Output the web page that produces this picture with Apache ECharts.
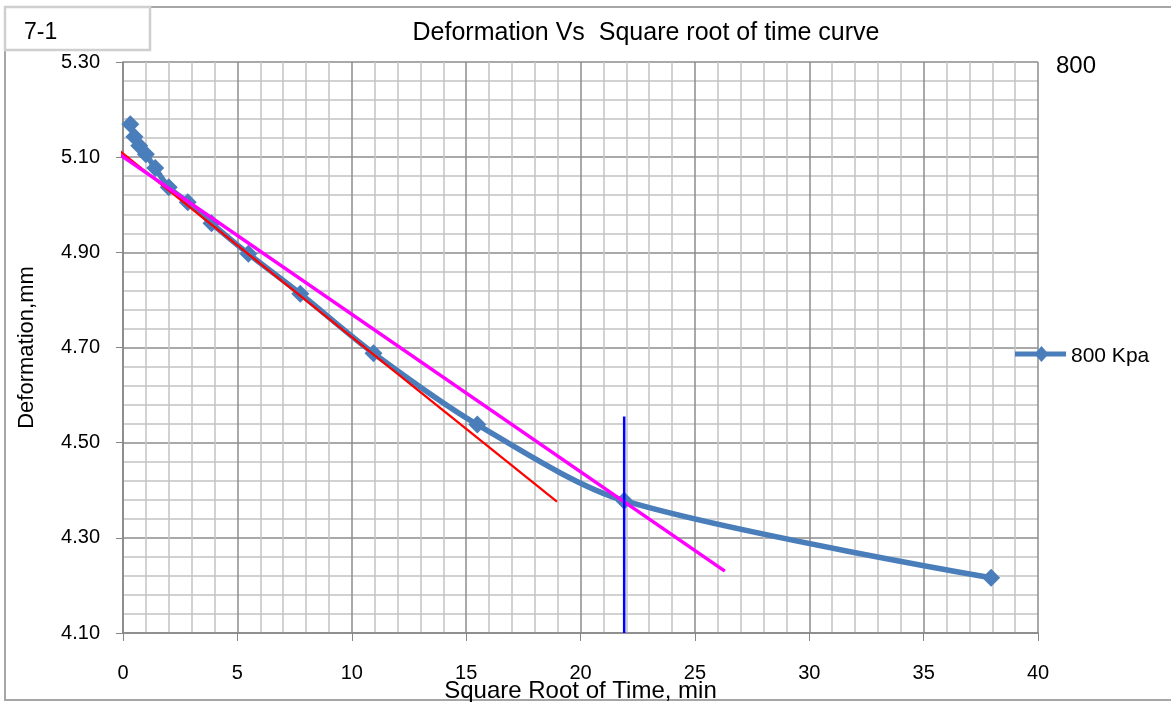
<!DOCTYPE html>
<html>
<head>
<meta charset="utf-8">
<script src="https://cdn.jsdelivr.net/npm/echarts@6/dist/echarts.min.js"></script>
<style>
  html, body { margin: 0; padding: 0; background: #ffffff; }
  #chart { width: 1171px; height: 702px; }
</style>
</head>
<body>
<div id="chart"></div>
<script>
// Consolidation reading: deformation against square root of elapsed time
const sqrtTime    = [0.32, 0.5, 0.71, 1.0, 1.41, 2.0, 2.83, 3.87, 5.48, 7.75, 10.95, 15.49, 21.91, 37.95];
const deformation = [5.169, 5.143, 5.124, 5.106, 5.077, 5.037, 5.005, 4.961, 4.897, 4.813, 4.688, 4.538, 4.378, 4.216];

// Construction lines drawn over the curve
const initialTangent = [[-0.92, 5.143], [18.97, 4.376]];
const offsetLine     = [[-0.15, 5.106], [26.31, 4.230]];
const t90Marker      = [[21.91, 4.10], [21.91, 4.555]];

const seriesName = '800 Kpa';
const pressureLabel = '800';
const sheetTag = '7-1';
const chartTitle = 'Deformation Vs  Square root of time curve';

const textFont = "'Liberation Sans', Arial, sans-serif";
const lineBlue = '#4A7EBB';

const chart = echarts.init(document.getElementById('chart'), null, { renderer: 'canvas' });

chart.setOption({
  animation: false,
  backgroundColor: '#ffffff',
  grid: { left: 123, top: 62, right: 133, bottom: 69, containLabel: false, outerBoundsMode: 'none' },
  xAxis: {
    type: 'value', min: 0, max: 40, interval: 5,
    name: 'Square Root of Time, min',
    nameLocation: 'middle', nameGap: 46, nameMoveOverlap: false,
    nameTextStyle: { fontFamily: textFont, fontSize: 24, color: '#000' },
    axisLine: { show: true, lineStyle: { color: '#868686', width: 1.5 } },
    axisTick: { show: true, length: 8, lineStyle: { color: '#868686' } },
    axisLabel: { margin: 30, fontFamily: textFont, fontSize: 20, color: '#000' },
    splitLine: { show: true, lineStyle: { color: '#8c8c8c', width: 1.5 } },
    minorTick: { show: false, splitNumber: 5 },
    minorSplitLine: { show: true, lineStyle: { color: '#c4c4c4', width: 1.5 } }
  },
  yAxis: {
    type: 'value', min: 4.1, max: 5.3, interval: 0.2,
    name: 'Deformation,mm',
    nameLocation: 'middle', nameGap: 85, nameMoveOverlap: false,
    nameTextStyle: { fontFamily: textFont, fontSize: 22, color: '#000' },
    axisLine: { show: true, lineStyle: { color: '#868686', width: 1.5 } },
    axisTick: { show: true, length: 7, lineStyle: { color: '#868686' } },
    axisLabel: { margin: 23, fontFamily: textFont, fontSize: 20, color: '#000',
                 formatter: v => v.toFixed(2) },
    splitLine: { show: true, lineStyle: { color: '#8c8c8c', width: 1.5 } },
    minorTick: { show: false, splitNumber: 5 },
    minorSplitLine: { show: true, lineStyle: { color: '#c4c4c4', width: 1.5 } }
  },
  series: [
    {
      name: seriesName, type: 'line', smooth: 0.3,
      data: sqrtTime.map((x, i) => [x, deformation[i]]),
      symbol: 'diamond', symbolSize: 18,
      lineStyle: { color: lineBlue, width: 5.5 },
      itemStyle: { color: lineBlue },
      z: 3
    },
    {
      name: 'tangent', type: 'line', data: initialTangent, clip: false,
      symbol: 'none', lineStyle: { color: '#ff0000', width: 2.2 }, silent: true, z: 4
    },
    {
      name: 'offset', type: 'line', data: offsetLine, clip: false,
      symbol: 'none', lineStyle: { color: '#ff00ff', width: 3.5 }, silent: true, z: 5
    },
    {
      name: 't90', type: 'line', data: t90Marker,
      symbol: 'none', lineStyle: { color: '#0000ff', width: 2.5 }, silent: true, z: 6
    }
  ],
  graphic: [
    // outer chart frame and the sheet tag cell
    { type: 'rect', shape: { x: 5, y: 7, width: 1200, height: 693 },
      style: { fill: 'none', stroke: '#a6a6a6', lineWidth: 2 }, z: 0 },
    { type: 'rect', shape: { x: 5, y: 7, width: 145, height: 43 },
      style: { fill: '#fff', stroke: '#cfcfcf', lineWidth: 2.5 }, z: 10 },
    { type: 'text', x: 24, y: 33, z: 11,
      style: { text: sheetTag, font: "23px 'Liberation Sans', Arial, sans-serif", fill: '#000',
               verticalAlign: 'middle' } },
    { type: 'text', x: 646, y: 33, z: 11,
      style: { text: chartTitle, font: "25px 'Liberation Sans', Arial, sans-serif",
               fill: '#000', align: 'center', verticalAlign: 'middle' } },
    { type: 'text', x: 1056, y: 66, z: 11,
      style: { text: pressureLabel, font: "24px 'Liberation Sans', Arial, sans-serif", fill: '#000',
               verticalAlign: 'middle' } },
    // series key on the right of the plot
    { type: 'line', shape: { x1: 1015, y1: 354, x2: 1066, y2: 354 }, z: 11,
      style: { stroke: lineBlue, lineWidth: 5 } },
    { type: 'polygon', shape: { points: [[1041.5, 346], [1048.5, 354], [1041.5, 362], [1034.5, 354]] }, z: 12,
      style: { fill: lineBlue } },
    { type: 'text', x: 1071, y: 356, z: 11,
      style: { text: seriesName, font: "21px 'Liberation Sans', Arial, sans-serif", fill: '#000',
               verticalAlign: 'middle' } }
  ]
});
</script>
</body>
</html>
